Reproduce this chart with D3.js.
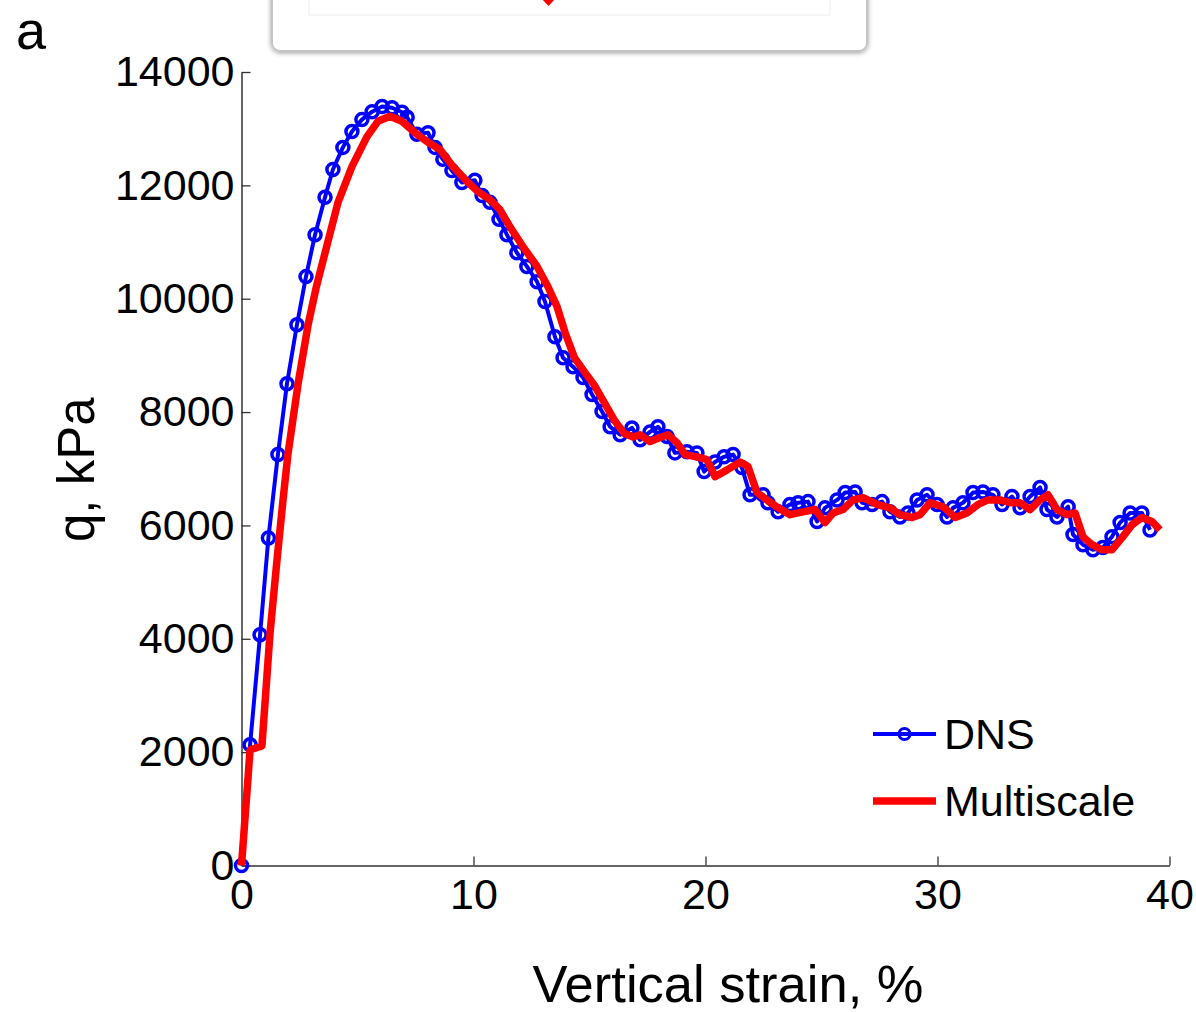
<!DOCTYPE html>
<html>
<head>
<meta charset="utf-8">
<script src="https://cdn.jsdelivr.net/npm/d3@7"></script>
<style>
  body { margin: 0; background: #fff; }
  svg text { font-family: "Liberation Sans", Arial, Helvetica, sans-serif; fill: #000; }
</style>
</head>
<body>
<div class="display"></div>
<script>
// q vs vertical strain, DNS against multiscale

const WIDTH = 1196;
const HEIGHT = 1012;

// DNS samples (strain %, q kPa)
const dnsStrain = [0, 0.37, 0.80, 1.16, 1.57, 1.96, 2.39, 2.78, 3.17, 3.60, 3.94, 4.37, 4.76, 5.19, 5.63, 6.06, 6.49, 6.92, 7.14, 7.56,
  8.04, 8.34, 8.68, 9.07, 9.50, 10.06, 10.37, 10.71, 11.10, 11.44, 11.87, 12.30, 12.74, 13.08, 13.51, 13.86, 14.29, 14.72, 15.11, 15.54,
  15.89, 16.32, 16.83, 17.18, 17.61, 17.95, 18.34, 18.68, 19.20, 19.63, 19.94, 20.41, 20.80, 21.19, 21.57, 21.92, 22.48, 22.69, 23.13, 23.64,
  23.99, 24.42, 24.81, 25.15, 25.67, 26.02, 26.45, 26.75, 27.18, 27.61, 27.95, 28.38, 28.73, 29.12, 29.55, 29.98, 30.41, 30.67, 31.10, 31.53,
  31.96, 32.39, 32.78, 33.21, 33.56, 33.99, 34.42, 34.72, 35.15, 35.63, 35.84, 36.27, 36.70, 37.13, 37.52, 37.87, 38.30, 38.81, 39.16];
const dnsQ = [0, 2130, 4070, 5780, 7250, 8500, 9540, 10390, 11130, 11790, 12280, 12670, 12950, 13160, 13300, 13390, 13370, 13290, 13200, 12900,
  12930, 12670, 12460, 12260, 12050, 12090, 11820, 11700, 11400, 11130, 10810, 10570, 10300, 9950, 9330, 8960, 8800, 8610, 8310, 8010,
  7740, 7600, 7720, 7510, 7650, 7740, 7570, 7280, 7300, 7280, 6950, 7120, 7210, 7250, 7020, 6540, 6540, 6400, 6240, 6370,
  6400, 6420, 6070, 6310, 6450, 6580, 6590, 6400, 6370, 6420, 6240, 6150, 6220, 6450, 6540, 6370, 6150, 6310, 6400, 6580,
  6590, 6540, 6370, 6510, 6310, 6510, 6670, 6280, 6150, 6330, 5840, 5660, 5570, 5610, 5800, 6050, 6220, 6220, 5920];

// Multiscale curve
const msStrain = [0, 0.37, 0.88, 1.23, 1.53, 1.79, 2.00, 2.44, 2.87, 3.22, 3.67, 4.16, 4.76, 5.41, 5.88, 6.40, 6.92, 7.48, 8.04, 8.56,
  9.12, 9.72, 10.19, 10.71, 11.14, 11.57, 12.13, 12.74, 13.21, 13.60, 13.95, 14.35, 14.80, 15.20, 15.62, 16.05, 16.50, 16.88, 17.18, 17.61,
  18.04, 18.39, 18.77, 19.12, 19.63, 20.06, 20.41, 20.93, 21.49, 21.83, 22.22, 22.65, 23.13, 23.64, 24.20, 24.72, 25.15, 25.50, 25.93, 26.36,
  26.79, 27.39, 27.95, 28.38, 28.90, 29.25, 29.68, 30.24, 30.76, 31.27, 31.75, 32.18, 32.69, 33.13, 33.56, 33.99, 34.42, 34.76, 35.15, 35.58,
  35.93, 36.27, 36.66, 37.09, 37.52, 37.95, 38.38, 38.81, 39.24, 39.59];
const msQ = [0, 2040, 2110, 4100, 5390, 6450, 7250, 8500, 9540, 10200, 10920, 11700, 12330, 12860, 13130, 13220, 13130, 12930, 12760, 12630,
  12330, 12070, 11890, 11750, 11570, 11270, 10920, 10570, 10210, 9860, 9400, 8960, 8700, 8480, 8180, 7870, 7620, 7560, 7600, 7480,
  7550, 7600, 7460, 7250, 7210, 7160, 6860, 6980, 7120, 7040, 6580, 6450, 6310, 6190, 6240, 6280, 6050, 6220, 6280, 6450,
  6490, 6370, 6310, 6190, 6140, 6190, 6400, 6330, 6140, 6220, 6370, 6450, 6450, 6400, 6400, 6280, 6450, 6540, 6280, 6190,
  6220, 5800, 5660, 5570, 5570, 5780, 6010, 6140, 6070, 5920];

const xTicks = [0, 10, 20, 30, 40];
const yTicks = [0, 2000, 4000, 6000, 8000, 10000, 12000, 14000];
const seriesNames = ['DNS', 'Multiscale'];

const dns = dnsStrain.map((s, i) => ({ x: s, y: dnsQ[i] }));
const ms = msStrain.map((s, i) => ({ x: s, y: msQ[i] }));

const svg = d3.select('.display')
  .append('svg')
  .attr('width', WIDTH)
  .attr('height', HEIGHT);

// piece of the neighbouring panel cut off at the top
const panelTop = svg.append('g');
const defs = svg.append('defs');
const shadow = defs.append('filter').attr('id', 'shadow').attr('x', '-5%').attr('y', '-20%').attr('width', '110%').attr('height', '160%');
shadow.append('feGaussianBlur').attr('in', 'SourceAlpha').attr('stdDeviation', 2.5);
shadow.append('feOffset').attr('dy', 1).attr('result', 'b');
shadow.append('feComponentTransfer').append('feFuncA').attr('type', 'linear').attr('slope', 0.4);
const merge = shadow.append('feMerge');
merge.append('feMergeNode');
merge.append('feMergeNode').attr('in', 'SourceGraphic');

panelTop.append('rect')
  .attr('x', 272).attr('y', -30).attr('width', 595).attr('height', 81).attr('rx', 8)
  .attr('fill', '#fff').attr('stroke', '#c4c4c4').attr('stroke-width', 2)
  .attr('filter', 'url(#shadow)');
panelTop.append('rect')
  .attr('x', 309).attr('y', -10).attr('width', 521).attr('height', 25)
  .attr('fill', 'none').attr('stroke', '#eeeeee').attr('stroke-width', 1);
panelTop.append('path')
  .attr('d', 'M541,-2 L556,-2 L548.5,6 Z')
  .attr('fill', '#ff0000');

svg.append('text')
  .attr('x', 16).attr('y', 49)
  .attr('font-size', 54)
  .text('a');

const x = d3.scaleLinear().domain([0, 40]).range([241.5, 1169.5]);
const y = d3.scaleLinear().domain([0, 14000]).range([865.5, 72]);

const xAxis = svg.append('g')
  .attr('transform', `translate(0,${y(0)})`)
  .call(d3.axisBottom(x).tickValues(xTicks).tickSizeInner(-9).tickSizeOuter(0).tickPadding(13));
const yAxis = svg.append('g')
  .attr('transform', `translate(${x(0)},0)`)
  .call(d3.axisLeft(y).tickValues(yTicks).tickFormat(d3.format('d')).tickSizeInner(-9).tickSizeOuter(0).tickPadding(7));

[xAxis, yAxis].forEach(a => {
  a.select('.domain').attr('stroke', '#333').attr('stroke-width', 1.5);
  a.selectAll('.tick line').attr('stroke', '#333').attr('stroke-width', 1.3);
  a.selectAll('.tick text').attr('font-size', 43).attr('fill', '#000')
    .style('font-family', '"Liberation Sans", Arial, sans-serif');
});

svg.append('text')
  .attr('x', 728).attr('y', 1002)
  .attr('text-anchor', 'middle')
  .attr('font-size', 52.5)
  .text('Vertical strain, %');

svg.append('text')
  .attr('transform', `translate(94,${y(7000) + 1}) rotate(-90)`)
  .attr('text-anchor', 'middle')
  .attr('font-size', 51)
  .text('q, kPa');

const line = d3.line().x(d => x(d.x)).y(d => y(d.y));

const plot = svg.append('g');
plot.append('path')
  .datum(dns)
  .attr('d', line)
  .attr('fill', 'none')
  .attr('stroke', '#0000ff')
  .attr('stroke-width', 4)
  .attr('stroke-linejoin', 'round');
plot.selectAll('.marker')
  .data(dns)
  .enter()
  .append('circle')
  .attr('class', 'marker')
  .attr('cx', d => x(d.x))
  .attr('cy', d => y(d.y))
  .attr('r', 6)
  .attr('fill', 'none')
  .attr('stroke', '#0000ff')
  .attr('stroke-width', 3.5);
plot.append('path')
  .datum(ms)
  .attr('d', line)
  .attr('fill', 'none')
  .attr('stroke', '#ff0000')
  .attr('stroke-width', 7.5)
  .attr('stroke-linejoin', 'round');

// legend
const legend = svg.append('g');
const legendRows = [
  { name: seriesNames[0], color: '#0000ff', width: 4, marker: true, cy: 734 },
  { name: seriesNames[1], color: '#ff0000', width: 7.5, marker: false, cy: 801 }
];
legendRows.forEach(r => {
  legend.append('line')
    .attr('x1', 873).attr('x2', 936)
    .attr('y1', r.cy).attr('y2', r.cy)
    .attr('stroke', r.color).attr('stroke-width', r.width);
  if (r.marker) {
    legend.append('circle')
      .attr('cx', 904.5).attr('cy', r.cy).attr('r', 5.5)
      .attr('fill', 'none').attr('stroke', r.color).attr('stroke-width', 3);
  }
  legend.append('text')
    .attr('x', 944).attr('y', r.cy)
    .attr('dy', '0.36em')
    .attr('font-size', 43)
    .text(r.name);
});
</script>
</body>
</html>
